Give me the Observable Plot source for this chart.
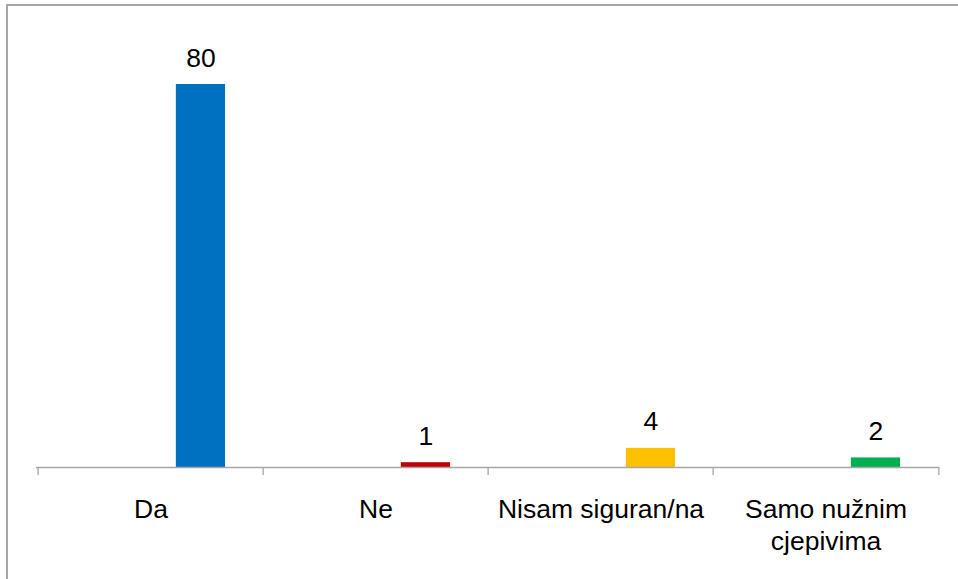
<!DOCTYPE html>
<html>
<head>
<meta charset="utf-8">
<script src="https://cdn.jsdelivr.net/npm/d3@7"></script>
<script src="https://cdn.jsdelivr.net/npm/@observablehq/plot@0.6"></script>
<style>
  html, body { margin: 0; padding: 0; background: #fff; }
  #wrap { position: relative; width: 958px; height: 579px; overflow: hidden; }
  #border { position: absolute; left: 6px; top: 4px; width: 960px; height: 600px;
            border-left: 2px solid #a5a5a5; border-top: 2px solid #a5a5a5; box-sizing: border-box; pointer-events: none; }
  #chart { position: absolute; left: 0; top: 0; }
</style>
</head>
<body>
<div id="wrap"><div id="chart"></div><div id="border"></div></div>
<script>
const categories = ["Da", "Ne", "Nisam siguran/na", "Samo nužnim\ncjepivima"];
const values = [80, 1, 4, 2];
const colors = ["#0070C0", "#C00000", "#FFC000", "#00B050"];

const data = categories.map((c, i) => ({category: c, value: values[i], color: colors[i]}));

const W = 958, H = 579;
const mL = 36, mR = 19, mT = 84, mB = 112;
const band = (W - mL - mR) / categories.length;
const slot = band / 4.52;           // three series slots + 150% gap
const insetL = 2.76 * slot, insetR = 0.76 * slot;
const labelDx = slot;               // bar centre relative to band centre

const font = "'Liberation Sans', Arial, sans-serif";

const chart = Plot.plot({
  width: W,
  height: H,
  marginLeft: mL,
  marginRight: mR,
  marginTop: mT,
  marginBottom: mB,
  style: {fontFamily: font, fontSize: "26.5px", color: "#000", background: "transparent", overflow: "visible"},
  x: {domain: categories, padding: 0, label: null},
  y: {domain: [0, 80], axis: null},
  color: {type: "identity"},
  marks: [
    Plot.barY(data, {x: "category", y: "value", fill: "color", insetLeft: insetL, insetRight: insetR}),
    Plot.ruleY([0], {stroke: "#a6a6a6", strokeWidth: 1.3}),
    Plot.ruleX(categories, {x: d => d, y1: 0, y2: 0, insetBottom: -8, dx: -band / 2, stroke: "#a6a6a6", strokeWidth: 1.3}),
    Plot.ruleX([categories[categories.length - 1]], {x: d => d, y1: 0, y2: 0, insetBottom: -8, dx: band / 2, stroke: "#a6a6a6", strokeWidth: 1.3}),
    Plot.text(data, {x: "category", y: "value", text: d => String(d.value), dx: labelDx, dy: -18, lineAnchor: "bottom", fill: "#000", fontSize: 26.5}),
    Plot.axisX({tickSize: 0, tickPadding: 28, fontSize: 26.5, lineHeight: 1.2, fill: "#000", label: null})
  ]
});
document.getElementById("chart").appendChild(chart);
</script>
</body>
</html>
